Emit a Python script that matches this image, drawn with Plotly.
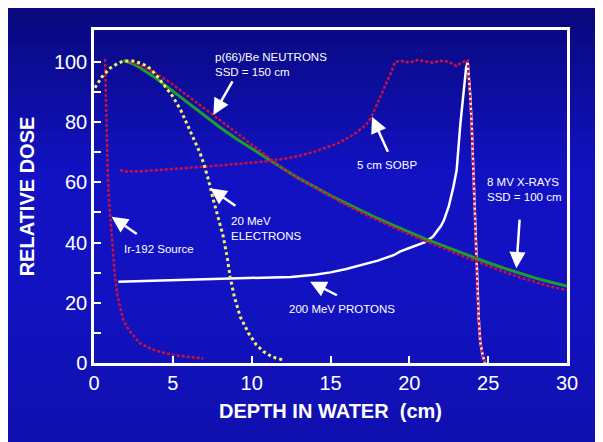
import plotly.graph_objects as go

# ---------------- data ----------------
ir_x = [0.70, 0.72, 0.75, 0.80, 0.87, 0.95, 1.05, 1.15, 1.33, 1.5, 1.65, 1.86, 2.2, 2.6, 2.92, 3.5, 4.0, 4.5, 5.0, 6.0, 6.94]
ir_y = [101, 96, 90, 76, 63, 54, 48, 42, 29, 22, 18.5, 14.3, 11, 8.3, 6.5, 5, 4, 3.3, 2.7, 2, 1.5]

elec_x = [0.06, 0.5, 1.02, 1.5, 1.86, 2.48, 3.0, 3.43, 4.0, 4.5, 5.0, 5.5, 5.88, 6.3, 6.73, 7.0, 7.26, 7.57, 7.9, 8.2, 8.45, 8.63, 8.9, 9.27, 9.8, 10.3, 10.75, 11.3, 12.0]
elec_y = [91.4, 95, 97.9, 99.5, 100.3, 100.3, 99.5, 98.4, 95.3, 92.0, 88.5, 84, 79.6, 75, 69.7, 65.5, 60.8, 54.2, 48, 42, 35, 28.7, 22, 15.4, 9.9, 6, 3.8, 2, 1.0]

neut_x = [2.07, 3, 4, 5, 6, 7, 7.57, 8, 9, 10, 11, 12, 13, 14, 15, 16, 17, 18, 19, 20, 21, 22, 23, 24, 25, 26, 27, 28, 29, 30]
neut_y = [100.5, 98.8, 96, 92.5, 88.5, 84.7, 82.4, 80.6, 76.6, 72.5, 68.3, 64.5, 61.2, 58.3, 55.3, 52.5, 49.8, 47.3, 45, 42.7, 40.5, 38.4, 36.3, 34.2, 32.2, 30.3, 28.5, 26.8, 25.3, 24.2]

xray_x = [1.86, 2.5, 3, 4, 5, 6, 7, 8, 9, 10, 11, 12, 13, 14, 15, 16, 17, 18, 19, 20, 21, 22, 23, 24, 25, 26, 27, 28, 29, 30]
xray_y = [100.5, 99.3, 97.8, 94.3, 90.3, 86.2, 82.2, 78.2, 74.6, 71.2, 67.8, 64.5, 61.3, 58.4, 55.6, 53, 50.4, 48, 45.7, 43.4, 41.2, 39.2, 37.2, 35.2, 33.3, 31.5, 29.8, 28.2, 26.8, 25.6]

sobp_x = [1.65, 2, 3, 4, 5, 6, 7, 8, 9, 10, 11, 12, 13, 14, 15, 15.5, 16, 16.5, 17, 17.4, 17.7, 18.0, 18.4, 18.8, 19.1, 19.5, 20, 20.5, 21, 21.5, 22, 22.5, 23, 23.3, 23.7, 23.85, 23.95, 24.05, 24.2, 24.3, 24.4, 24.5, 24.65, 24.8]
sobp_y = [64.1, 63.6, 63.7, 64, 64.4, 64.8, 65.2, 65.6, 66, 66.4, 67, 67.8, 68.8, 70.2, 71.9, 73, 74.5, 76, 78, 80, 83, 86.5, 91, 96, 100, 100.3, 99.8, 100.6, 100.2, 99.7, 100.4, 100, 98.6, 99.8, 100.5, 90, 80, 65, 40, 25, 15, 7, 2.5, 0]

prot_x = [1.54, 3, 5, 7, 9, 11, 12.5, 14, 15, 16, 17, 18, 19, 19.4, 20, 20.5, 21, 21.5, 22, 22.2, 22.5, 22.8, 23.0, 23.24, 23.45, 23.6, 23.7, 23.85, 23.95, 24.05, 24.2, 24.3, 24.4, 24.5, 24.65, 24.8]
prot_y = [27.0, 27.2, 27.4, 27.6, 27.9, 28.3, 28.6, 29.3, 30.1, 31.2, 32.6, 34, 35.8, 37, 38.2, 39.2, 40.1, 42, 45.5, 47.5, 52, 58.6, 64, 79.6, 90, 98, 100, 90, 80, 65, 40, 25, 15, 7, 2.5, 0]

x_ticks = [0, 5, 10, 15, 20, 25, 30]
y_ticks = [0, 10, 20, 30, 40, 50, 60, 70, 80, 90, 100]
y_tick_text = ["0", "", "20", "", "40", "", "60", "", "80", "", "100"]

FONT = "Liberation Sans, Arial, sans-serif"
RED = "#cc1040"
WHITE = "#ffffff"

# page body adds an 8px offset; margins compensate so the plot box lands at 94..567 x 30..363
ML, MT, MR, MB = 86, 22, 44, 87
PLOT_H = 442 - MT - MB

fig = go.Figure()

# ---------------- background gradient ----------------
def lerp(c1, c2, t):
    return tuple(round(a + (b - a) * t) for a, b in zip(c1, c2))

stops = [(0.0, (8, 8, 120)), (0.40, (18, 18, 196)), (0.70, (18, 18, 192)), (1.0, (16, 16, 176))]
n_bands = 60
y_top = 1 + (MT + 8) / PLOT_H
y_bot = -(MB - 8) / PLOT_H
shapes = []
for i in range(n_bands):
    t = (i + 0.5) / n_bands  # 0 at top
    for (s0, c0), (s1, c1) in zip(stops[:-1], stops[1:]):
        if s0 <= t <= s1:
            c = lerp(c0, c1, (t - s0) / (s1 - s0))
            break
    ya = y_top - (y_top - y_bot) * i / n_bands
    yb = y_top - (y_top - y_bot) * (i + 1) / n_bands
    if i == 0:
        ya = 3
    if i == n_bands - 1:
        yb = -3
    shapes.append(dict(type="rect", xref="paper", yref="paper", x0=-1, x1=2,
                       y0=yb - 0.002, y1=ya + 0.002, line=dict(width=0),
                       fillcolor="rgb(%d,%d,%d)" % c, layer="below"))

# ---------------- curves ----------------
fig.add_trace(go.Scatter(x=prot_x, y=prot_y, mode="lines",
                         line=dict(color=WHITE, width=2.5), name="200 MeV protons"))
fig.add_trace(go.Scatter(x=xray_x, y=xray_y, mode="lines",
                         line=dict(color="#1c9e2c", width=3), name="8 MV X-rays"))
fig.add_trace(go.Scatter(x=neut_x, y=neut_y, mode="lines",
                         line=dict(color=RED, width=2.5, dash="3px,2px"), name="p(66)/Be neutrons"))
fig.add_trace(go.Scatter(x=sobp_x, y=sobp_y, mode="lines",
                         line=dict(color=RED, width=2.5, dash="3px,2px"), name="5 cm SOBP"))
fig.add_trace(go.Scatter(x=ir_x, y=ir_y, mode="lines",
                         line=dict(color=RED, width=2.5, dash="3px,2px"), name="Ir-192"))
fig.add_trace(go.Scatter(x=elec_x, y=elec_y, mode="lines",
                         line=dict(color="#f0f060", width=3, dash="3px,3px"), name="20 MeV electrons"))

# ---------------- annotations ----------------
ann_font = dict(family=FONT, size=11.5, color=WHITE)
texts = [
    (7.56, 99.0, "p(66)/Be NEUTRONS<br>SSD = 150 cm"),
    (16.57, 65.8, "5 cm SOBP"),
    (24.83, 57.6, "8 MV X-RAYS<br>SSD = 100 cm"),
    (8.57, 44.7, "20 MeV<br>ELECTRONS"),
    (1.80, 37.9, "Ir-192 Source"),
    (12.23, 17.8, "200 MeV PROTONS"),
]
annotations = []
for x, y, t in texts:
    annotations.append(dict(x=x, y=y, xref="x", yref="y", text=t, showarrow=False,
                            xanchor="left", yanchor="middle", align="left", font=ann_font))
arrows = [
    (7.57, 82.4, 20, -35),
    (17.63, 81.8, 16.6, 36.6),
    (26.79, 31.5, 3.3, -50),
    (7.37, 58.0, 26.7, 18.4),
    (1.12, 48.6, 26.6, 18.3),
    (13.71, 27.0, 28.3, 14.3),
]
for x, y, ax, ay in arrows:
    annotations.append(dict(x=x, y=y, xref="x", yref="y", ax=ax, ay=ay, text="",
                            showarrow=True, arrowhead=2, arrowsize=1.3, arrowwidth=2.5,
                            arrowcolor=WHITE, standoff=0))

fig.update_layout(
    width=603, height=442,
    margin=dict(l=ML, r=MR, t=MT, b=MB, pad=0),
    paper_bgcolor="#1010b0",
    plot_bgcolor="rgba(0,0,0,0)",
    showlegend=False,
    shapes=shapes,
    annotations=annotations,
    font=dict(family=FONT, color=WHITE),
    xaxis=dict(range=[0, 30], tickvals=x_ticks, ticks="inside", ticklen=7, tickwidth=2,
               tickcolor=WHITE, showline=True, mirror=True, linecolor=WHITE, linewidth=2.5,
               showgrid=False, zeroline=False, tickfont=dict(size=20, family=FONT, color=WHITE),
               title=dict(text="<b>DEPTH IN WATER  (cm)</b>", font=dict(size=20, family=FONT, color=WHITE),
                          standoff=12)),
    yaxis=dict(range=[0, 110.6], tickvals=y_ticks, ticktext=y_tick_text, ticks="inside", ticklen=7,
               tickwidth=2, tickcolor=WHITE, showline=True, mirror=True, linecolor=WHITE, linewidth=2.5,
               showgrid=False, zeroline=False, tickfont=dict(size=20, family=FONT, color=WHITE),
               ticklabelstandoff=0,
               title=dict(text="<b>RELATIVE DOSE</b>", font=dict(size=20, family=FONT, color=WHITE),
                          standoff=14)),
)

fig.write_html("out.html")
